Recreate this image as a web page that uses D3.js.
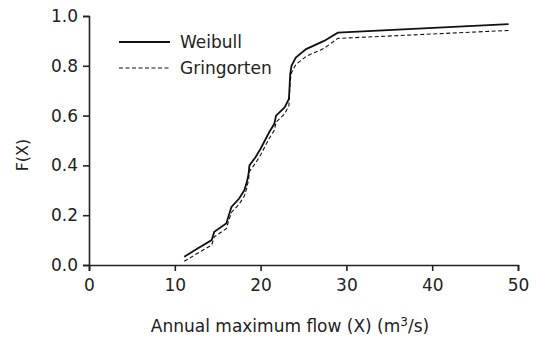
<!DOCTYPE html>
<html><head><meta charset="utf-8">
<script src="https://cdn.jsdelivr.net/npm/d3@7"></script>
<style>body{margin:0;background:#fff}svg{display:block}text{font-family:"DejaVu Sans",sans-serif}</style>
</head><body><svg id="c" width="536" height="337"></svg>
<script>
const flow = [11.1,12.7,14.3,14.6,16.0,16.3,16.6,17.5,18.1,18.4,18.6,18.7,19.4,20.0,20.5,21.0,21.6,21.8,22.8,23.3,23.35,23.4,23.45,23.6,24.1,25.3,27.4,29.0,48.9];
const weibull = [0.033,0.067,0.100,0.133,0.167,0.200,0.233,0.267,0.300,0.333,0.367,0.400,0.433,0.467,0.500,0.533,0.567,0.600,0.633,0.667,0.700,0.733,0.767,0.800,0.833,0.867,0.900,0.933,0.967];
const gringorten = [0.015,0.048,0.080,0.113,0.146,0.179,0.211,0.244,0.277,0.310,0.343,0.376,0.409,0.442,0.475,0.508,0.541,0.574,0.607,0.640,0.673,0.706,0.739,0.772,0.805,0.838,0.870,0.910,0.942];
const xTicks = [0,10,20,30,40,50];
const yTicks = [0,0.2,0.4,0.6,0.8,1.0];
const legendLabels = ["Weibull","Gringorten"];

const svg = d3.select("#c");
const x = d3.scaleLinear().domain([0,50]).range([89,518]);
const y = d3.scaleLinear().domain([0,1]).range([265,16]);

const xa = svg.append("g").attr("transform","translate(0,265)")
  .call(d3.axisBottom(x).tickValues(xTicks).tickFormat(d3.format("d")).tickSizeOuter(0).tickSize(6));
const ya = svg.append("g").attr("transform","translate(89,0)")
  .call(d3.axisLeft(y).tickValues(yTicks).tickFormat(d3.format(".1f")).tickSizeOuter(0).tickSize(6));
[xa,ya].forEach(a=>{
  a.selectAll("path,line").attr("stroke","#222").attr("stroke-width",1.6);
  a.selectAll("text").attr("fill","#222").style("font-size","17px");
});
xa.selectAll("text").attr("dy","1.0em");
ya.selectAll("text").attr("dx","-2px");

const pts = flow.map((f,i)=>({f,w:weibull[i],g:gringorten[i]}));
svg.append("path").datum(pts).attr("fill","none").attr("stroke","#111").attr("stroke-width",1.8)
  .attr("d",d3.line().x(d=>x(d.f)).y(d=>y(d.w)));
svg.append("path").datum(pts).attr("fill","none").attr("stroke","#111").attr("stroke-width",1.1)
  .attr("stroke-dasharray","4,2.5")
  .attr("d",d3.line().x(d=>x(d.f)).y(d=>y(d.g)));

const lg = svg.append("g");
[0,1].forEach(i=>{
  const yy = 42 + i*26;
  lg.append("line").attr("x1",119).attr("x2",170).attr("y1",yy).attr("y2",yy)
    .attr("stroke","#111").attr("stroke-width",i?1.1:1.8).attr("stroke-dasharray",i?"4,2.5":null);
  lg.append("text").attr("x",180).attr("y",yy+6).text(legendLabels[i]).attr("fill","#222").style("font-size","17px");
});

svg.append("text").attr("x",290).attr("y",332).attr("text-anchor","middle").attr("fill","#222").style("font-size","17px")
  .html('Annual maximum flow (X) (m<tspan dy="-6" font-size="12px">3</tspan><tspan dy="6">/s)</tspan>');
svg.append("text").attr("transform","translate(28,155) rotate(-90)").attr("text-anchor","middle").attr("fill","#222").style("font-size","16px").text("F(X)");
</script></body></html>
